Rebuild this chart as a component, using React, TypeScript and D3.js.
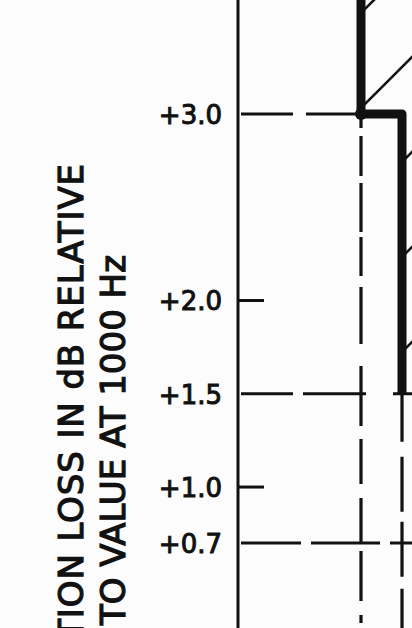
import * as d3 from "d3";

// y axis: dB relative to 1000 Hz
const tickValues = [3.0, 2.0, 1.5, 1.0, 0.7];
const tickLabels = ["+3.0", "+2.0", "+1.5", "+1.0", "+0.7"];
const shortTicks = [2.0, 1.0];

// x: frequency in Hz (log), only the low end is in view
const axisFreq = 25;
const edgeFreq = 70;

// limit (step) line
const limitFreq = [50, 50, 63, 63];
const limitDb = [4.0, 3.0, 3.0, 1.5];

// dashed reference lines
const refLevels = [3.0, 1.5, 0.7];
const refEndFreq = [50, 70, 70];
const dropFreq = [50, 63];
const dropFromDb = [3.0, 1.5];

const W = 412;
const H = 628;
const ink = "#111";

export default function App() {
  const x = d3.scaleLog().domain([25, 50]).range([238, 361]);
  const y = d3.scaleLinear().domain([0.7, 3.0]).range([543, 114]);

  const limitPts: [number, number][] = limitFreq.map((f, i) => [x(f), y(limitDb[i])]);
  const limitPath = d3.line()(limitPts) || "";

  // forbidden region above the limit, hatched
  const regionPts: [number, number][] = [
    ...limitPts,
    [x(edgeFreq) + 20, y(1.5)],
    [x(edgeFreq) + 20, y(4.0)],
  ];
  const regionPath = (d3.line()(regionPts) || "") + "Z";

  const refDash = ["52,13,70,0", "52,10,63,27,60", "60,10,69,10,60"];
  const dropDash = ["14,8,40,7,49,5,39,11,57,22,60,13,45,14,46,7,50", "48,15,55,10,55,12,60"];

  return (
    <svg width={W} height={H} style={{ position: "absolute", left: 0, top: 0, background: "#fcfcfc" }}>
      <defs>
        <pattern id="hatch" patternUnits="userSpaceOnUse" x={-6} y={0} width={95} height={95}>
          <line x1={0} y1={95} x2={95} y2={0} stroke={ink} strokeWidth={2.6} />
          <line x1={-5} y1={5} x2={5} y2={-5} stroke={ink} strokeWidth={2.6} />
          <line x1={90} y1={100} x2={100} y2={90} stroke={ink} strokeWidth={2.6} />
        </pattern>
      </defs>

      {/* axis title */}
      <g fontFamily="DejaVu Sans" fontSize={34} fill={ink} stroke={ink} strokeWidth={1.2}>
        <text transform={`translate(83,163) rotate(-90)`} textAnchor="end" letterSpacing={0.9}>
          INSERTION LOSS IN dB RELATIVE
        </text>
        <text transform={`translate(125,255) rotate(-90)`} textAnchor="end">
          TO VALUE AT 1000 Hz
        </text>
      </g>

      {/* y axis */}
      <line x1={x(axisFreq)} x2={x(axisFreq)} y1={0} y2={H} stroke={ink} strokeWidth={3} />
      {shortTicks.map((v) => (
        <line key={v} x1={x(axisFreq)} x2={x(axisFreq) + 26} y1={y(v)} y2={y(v)} stroke={ink} strokeWidth={3} />
      ))}
      <g fontFamily="DejaVu Sans" fontSize={26} fill={ink} stroke={ink} strokeWidth={1} textAnchor="end">
        {tickValues.map((v, i) => (
          <text key={v} x={x(axisFreq) - 16} y={y(v)} dy="0.38em">
            {tickLabels[i]}
          </text>
        ))}
      </g>

      {/* dashed reference lines */}
      {refLevels.map((v, i) => (
        <line
          key={v}
          x1={x(axisFreq) + 3}
          x2={x(refEndFreq[i])}
          y1={y(v)}
          y2={y(v)}
          stroke={ink}
          strokeWidth={3}
          strokeDasharray={refDash[i]}
        />
      ))}
      {dropFreq.map((f, i) => (
        <line
          key={f}
          x1={x(f)}
          x2={x(f)}
          y1={y(dropFromDb[i])}
          y2={H}
          stroke={ink}
          strokeWidth={3.2}
          strokeDasharray={dropDash[i]}
        />
      ))}

      {/* hatched forbidden zone */}
      <path d={regionPath} fill="url(#hatch)" stroke="none" />

      {/* limit line */}
      <path d={limitPath} fill="none" stroke={ink} strokeWidth={9} strokeLinejoin="round" />
      <circle cx={limitPts[1][0]} cy={limitPts[1][1]} r={6} fill={ink} />
    </svg>
  );
}
